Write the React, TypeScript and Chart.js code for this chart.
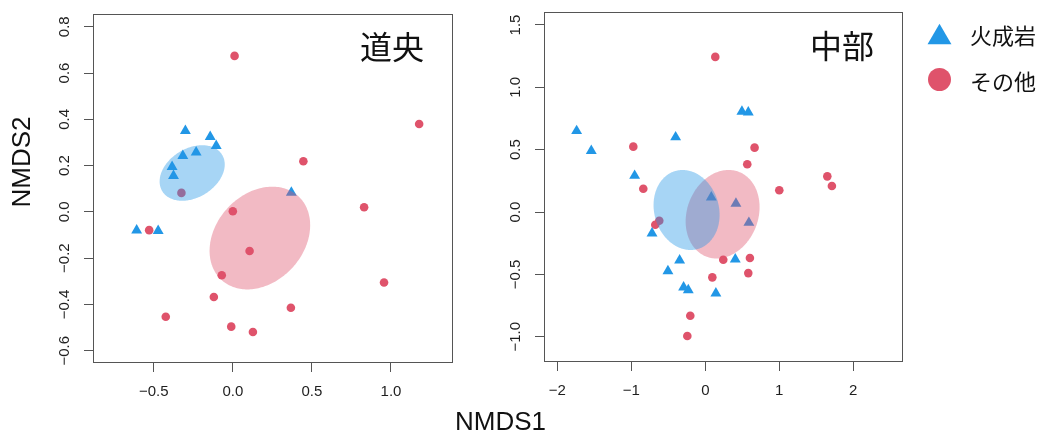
import React, { useEffect, useRef } from 'react';
import { Chart, registerables } from 'chart.js';

Chart.register(...registerables);

type Pt = [number, number];
// ellipse: [centerX, centerY, u_x, u_y, v_x, v_y] (conjugate semi-axis vectors, data units)
type Ell = [number, number, number, number, number, number];

const groupLabels = ['火成岩', 'その他'];
const groupColors = ['#2297E6', '#DF536B'];
const groupFills = ['rgba(34,151,230,0.4)', 'rgba(223,83,107,0.4)'];
const regionTitles = ['道央', '中部'];
const axisTitleX = 'NMDS1';
const axisTitleY = 'NMDS2';

// 道央
const dooIgneous: Pt[] = [
  [-0.30, 0.35], [-0.143, 0.324], [-0.105, 0.285], [-0.232, 0.257], [-0.316, 0.242],
  [-0.384, 0.195], [-0.375, 0.156], [0.37, 0.083], [-0.608, -0.08], [-0.472, -0.082],
];
const dooOther: Pt[] = [
  [0.011, 0.674], [1.178, 0.38], [0.446, 0.219], [-0.325, 0.082], [0.83, 0.02],
  [0.0, 0.003], [-0.529, -0.079], [0.106, -0.169], [-0.07, -0.274], [0.956, -0.305],
  [-0.12, -0.368], [0.367, -0.414], [-0.424, -0.453], [-0.01, -0.496], [0.127, -0.519],
];
const dooIgneousEllipse: Ell = [-0.257, 0.168, 0.063, 0.12, 0.196, 0];
const dooOtherEllipse: Ell = [0.171, -0.113, 0.079, 0.222, 0.308, 0];
const dooXRange: [number, number] = [-0.884, 1.392];
const dooYRange: [number, number] = [-0.653, 0.855];
const dooXTicks = [-0.5, 0, 0.5, 1.0];
const dooXTickLabels = ['−0.5', '0.0', '0.5', '1.0'];
const dooYTicks = [-0.6, -0.4, -0.2, 0, 0.2, 0.4, 0.6, 0.8];
const dooYTickLabels = ['−0.6', '−0.4', '−0.2', '0.0', '0.2', '0.4', '0.6', '0.8'];

// 中部
const chubuIgneous: Pt[] = [
  [-1.739, 0.65], [-1.541, 0.49], [-0.401, 0.6], [0.495, 0.805], [0.581, 0.8],
  [-0.955, 0.291], [0.081, 0.118], [0.414, 0.067], [0.589, -0.086], [-0.72, -0.171],
  [-0.347, -0.388], [-0.505, -0.474], [0.405, -0.38], [-0.293, -0.604], [-0.23, -0.626],
  [0.143, -0.653],
];
const chubuOther: Pt[] = [
  [0.135, 1.244], [-0.973, 0.524], [0.666, 0.516], [0.567, 0.383], [-0.838, 0.187],
  [1.0, 0.174], [1.649, 0.286], [1.711, 0.209], [-0.622, -0.07], [-0.676, -0.102],
  [0.243, -0.383], [0.603, -0.369], [0.581, -0.49], [0.095, -0.524], [-0.203, -0.832],
  [-0.243, -0.995],
];
const chubuIgneousEllipse: Ell = [-0.253, 0.016, -0.054, 0.321, 0.443, 0];
const chubuOtherEllipse: Ell = [0.234, -0.018, 0.081, 0.355, 0.493, 0];
const chubuXRange: [number, number] = [-2.18, 2.672];
const chubuYRange: [number, number] = [-1.203, 1.604];
const chubuXTicks = [-2, -1, 0, 1, 2];
const chubuXTickLabels = ['−2', '−1', '0', '1', '2'];
const chubuYTicks = [-1.0, -0.5, 0, 0.5, 1.0, 1.5];
const chubuYTickLabels = ['−1.0', '−0.5', '0.0', '0.5', '1.0', '1.5'];

const LATIN = '"Liberation Sans", Arial, Helvetica, sans-serif';
const CJK = '"Noto Sans CJK JP", "Noto Sans CJK SC", sans-serif';
const LINE = '#555';
const TEXT = '#1e1e1e';

interface PanelCfg {
  title: string;
  igneous: Pt[];
  other: Pt[];
  ellipses: Ell[];
  xRange: [number, number];
  yRange: [number, number];
  xTicks: number[];
  xTickLabels: string[];
  yTicks: number[];
  yTickLabels: string[];
  left: number;
  width: number;
  padding: { left: number; right: number; top: number; bottom: number };
  xAxisHeight: number;
  titleY: number;
  showAxisTitles: boolean;
  showLegend: boolean;
}

function drawTriangle(ctx: CanvasRenderingContext2D, cx: number, cy: number, r: number) {
  const h = 1.5 * r;
  const hw = 0.866 * r;
  ctx.beginPath();
  ctx.moveTo(cx, cy - h / 2);
  ctx.lineTo(cx + hw, cy + h / 2);
  ctx.lineTo(cx - hw, cy + h / 2);
  ctx.closePath();
  ctx.fill();
}

function makeDecor(cfg: PanelCfg) {
  return {
    id: 'panelDecor',
    afterDatasetsDraw(chart: any) {
      const { ctx, chartArea: a } = chart;
      const xs = chart.scales.x;
      const ys = chart.scales.y;
      ctx.save();
      ctx.beginPath();
      ctx.rect(a.left, a.top, a.right - a.left, a.bottom - a.top);
      ctx.clip();
      // draw "その他" ellipse first, then "火成岩"
      const order = [1, 0];
      order.forEach((gi) => {
        const e = cfg.ellipses[gi];
        ctx.beginPath();
        const N = 200;
        for (let i = 0; i <= N; i++) {
          const t = (i / N) * Math.PI * 2;
          const vx = e[0] + e[2] * Math.cos(t) + e[4] * Math.sin(t);
          const vy = e[1] + e[3] * Math.cos(t) + e[5] * Math.sin(t);
          const px = xs.getPixelForValue(vx);
          const py = ys.getPixelForValue(vy);
          if (i === 0) ctx.moveTo(px, py);
          else ctx.lineTo(px, py);
        }
        ctx.closePath();
        ctx.fillStyle = groupFills[gi];
        ctx.fill();
      });
      ctx.restore();
    },
    afterDraw(chart: any) {
      const { ctx, chartArea: a } = chart;
      const xs = chart.scales.x;
      const ys = chart.scales.y;
      ctx.save();
      // box
      ctx.strokeStyle = LINE;
      ctx.lineWidth = 1;
      const l = Math.round(a.left) + 0.5;
      const t = Math.round(a.top) + 0.5;
      const r = Math.round(a.right) - 0.5;
      const b = Math.round(a.bottom) - 0.5;
      ctx.strokeRect(l, t, r - l, b - t);

      // tick labels
      ctx.fillStyle = TEXT;
      ctx.font = `15px ${LATIN}`;
      ctx.textAlign = 'center';
      ctx.textBaseline = 'middle';
      cfg.xTicks.forEach((v, i) => {
        ctx.fillText(cfg.xTickLabels[i], xs.getPixelForValue(v), a.bottom + 29);
      });
      cfg.yTicks.forEach((v, i) => {
        ctx.save();
        ctx.translate(a.left - 28, ys.getPixelForValue(v));
        ctx.rotate(-Math.PI / 2);
        ctx.fillText(cfg.yTickLabels[i], 0, 0);
        ctx.restore();
      });

      // panel title
      ctx.font = `32px ${CJK}`;
      ctx.textAlign = 'right';
      ctx.fillStyle = '#111';
      ctx.fillText(cfg.title, a.right - 29, cfg.titleY);

      if (cfg.showAxisTitles) {
        ctx.font = `26px ${LATIN}`;
        ctx.textAlign = 'center';
        ctx.fillStyle = '#111';
        ctx.fillText(axisTitleX, 500.5, 423);
        ctx.save();
        ctx.translate(23, 162);
        ctx.rotate(-Math.PI / 2);
        ctx.fillText(axisTitleY, 0, 0);
        ctx.restore();
      }

      if (cfg.showLegend) {
        const ds = chart.data.datasets;
        const rowsY = [34, 79.5];
        const symX = a.right + 36.5;
        const textX = a.right + 67;
        ds.forEach((d: any, i: number) => {
          ctx.fillStyle = d.backgroundColor;
          if (d.pointStyle === 'triangle') {
            drawTriangle(ctx, symX, rowsY[i], 13.8);
          } else {
            ctx.beginPath();
            ctx.arc(symX, rowsY[i], 11.5, 0, Math.PI * 2);
            ctx.fill();
          }
          ctx.fillStyle = '#111';
          ctx.font = `22px ${CJK}`;
          ctx.textAlign = 'left';
          ctx.textBaseline = 'middle';
          ctx.fillText(d.label, textX, rowsY[i] + 2);
        });
      }
      ctx.restore();
    },
  };
}

function Panel({ cfg }: { cfg: PanelCfg }) {
  const ref = useRef<HTMLCanvasElement | null>(null);
  useEffect(() => {
    if (!ref.current) return;
    const tickGrid = {
      drawOnChartArea: false,
      drawTicks: true,
      tickLength: 9,
      color: LINE,
      lineWidth: 1,
    };
    const chart = new Chart(ref.current, {
      type: 'scatter',
      data: {
        datasets: [
          {
            label: groupLabels[0],
            data: cfg.igneous.map(([x, y]) => ({ x, y })),
            pointStyle: 'triangle',
            pointRadius: 6.3,
            backgroundColor: groupColors[0],
            borderColor: groupColors[0],
            borderWidth: 0,
          },
          {
            label: groupLabels[1],
            data: cfg.other.map(([x, y]) => ({ x, y })),
            pointStyle: 'circle',
            pointRadius: 4.3,
            backgroundColor: groupColors[1],
            borderColor: groupColors[1],
            borderWidth: 0,
          },
        ],
      },
      options: {
        responsive: false,
        animation: false,
        events: [],
        layout: { padding: cfg.padding },
        plugins: {
          legend: { display: false },
          tooltip: { enabled: false },
          title: { display: false },
        },
        scales: {
          x: {
            type: 'linear',
            position: 'bottom',
            min: cfg.xRange[0],
            max: cfg.xRange[1],
            afterBuildTicks: (s: any) => {
              s.ticks = cfg.xTicks.map((v) => ({ value: v }));
            },
            afterFit: (s: any) => {
              s.height = cfg.xAxisHeight;
            },
            ticks: { display: false },
            grid: tickGrid,
            border: { display: false },
          },
          y: {
            type: 'linear',
            position: 'left',
            min: cfg.yRange[0],
            max: cfg.yRange[1],
            afterBuildTicks: (s: any) => {
              s.ticks = cfg.yTicks.map((v) => ({ value: v }));
            },
            afterFit: (s: any) => {
              s.width = 40;
            },
            ticks: { display: false },
            grid: tickGrid,
            border: { display: false },
          },
        },
      } as any,
      plugins: [makeDecor(cfg) as any],
    });
    return () => chart.destroy();
  }, [cfg]);
  return (
    <canvas
      ref={ref}
      width={cfg.width}
      height={434}
      style={{ position: 'absolute', left: cfg.left, top: 0, width: cfg.width, height: 434 }}
    />
  );
}

const panel1: PanelCfg = {
  title: regionTitles[0],
  igneous: dooIgneous,
  other: dooOther,
  ellipses: [dooIgneousEllipse, dooOtherEllipse],
  xRange: dooXRange,
  yRange: dooYRange,
  xTicks: dooXTicks,
  xTickLabels: dooXTickLabels,
  yTicks: dooYTicks,
  yTickLabels: dooYTickLabels,
  left: 0,
  width: 560,
  padding: { left: 53, right: 107, top: 14, bottom: 0 },
  xAxisHeight: 71,
  titleY: 47,
  showAxisTitles: true,
  showLegend: false,
};

const panel2: PanelCfg = {
  title: regionTitles[1],
  igneous: chubuIgneous,
  other: chubuOther,
  ellipses: [chubuIgneousEllipse, chubuOtherEllipse],
  xRange: chubuXRange,
  yRange: chubuYRange,
  xTicks: chubuXTicks,
  xTickLabels: chubuXTickLabels,
  yTicks: chubuYTicks,
  yTickLabels: chubuYTickLabels,
  left: 480,
  width: 561,
  padding: { left: 24, right: 138, top: 12, bottom: 0 },
  xAxisHeight: 72,
  titleY: 46,
  showAxisTitles: false,
  showLegend: true,
};

export default function App() {
  return (
    <div style={{ position: 'absolute', left: 0, top: 0, width: 1041, height: 434, background: '#fff' }}>
      <Panel cfg={panel1} />
      <Panel cfg={panel2} />
    </div>
  );
}
